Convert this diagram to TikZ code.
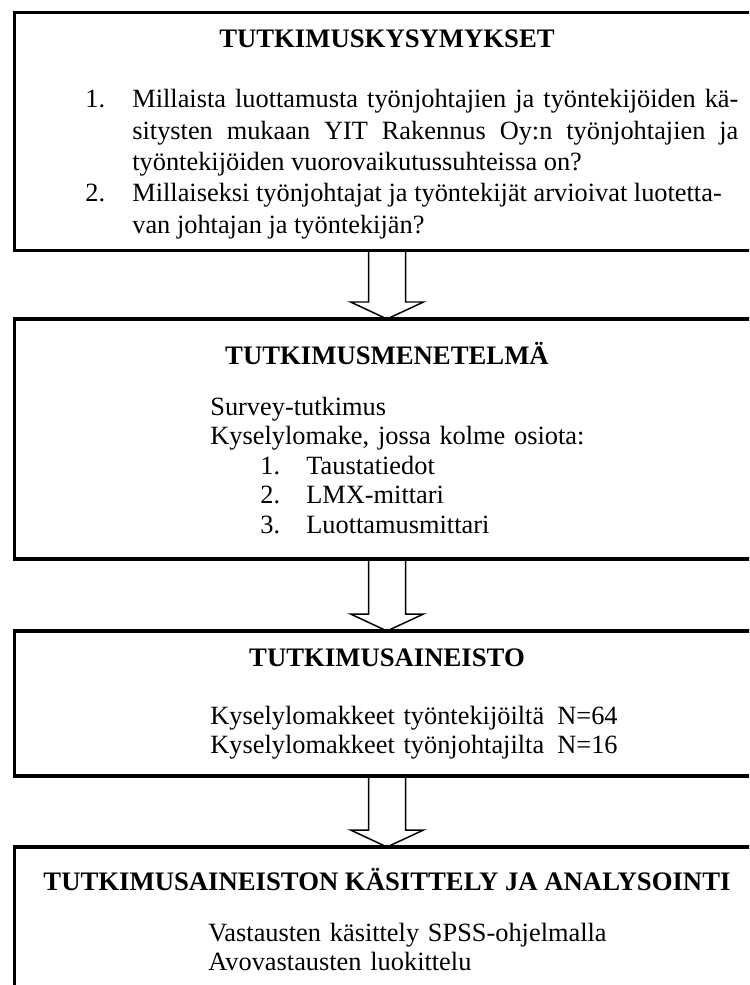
\documentclass[tikz,border=0pt]{standalone}
\usepackage{fontspec}
\setmainfont{Liberation Serif}
\usetikzlibrary{calc}
\newcommand{\isonuoli}[2]{%
  \draw[nuoli] ($(#1.south)+(-0.37,0)$) -- ($(#2.north)+(-0.37,0.34)$)
    -- ($(#2.north)+(-0.73,0.34)$) -- (#2.north)
    -- ($(#2.north)+(0.73,0.34)$) -- ($(#2.north)+(0.37,0.34)$)
    -- ($(#1.south)+(0.37,0)$);}

\begin{document}
\begin{tikzpicture}[
  laatikko/.style={draw, line width=2.2pt, minimum width=14.9cm, inner sep=0pt, outer sep=0pt},
  otsikko/.style={anchor=base, inner sep=0pt, font=\fontsize{15.2}{18}\selectfont\bfseries},
  numero/.style={anchor=base west, inner sep=0pt, font=\fontsize{15}{17.8}\selectfont},
  kohta/.style={anchor=base west, inner sep=0pt, text width=12.12cm, align=justify, font=\fontsize{15}{17.8}\selectfont},
  rivit/.style={anchor=base west, inner sep=0pt, text width=10cm, align=left}]
\tikzset{nuoli/.style={line width=0.85pt, line join=miter}}
\useasboundingbox (0,0) rectangle (14.98,-19.7);
\clip (0,0) rectangle (14.98,-19.7);

\node[laatikko, minimum height=4.76cm] (kysymykset) at (7.74,-2.63) {};
\node[otsikko] (kysymyksetot) at (7.74,-0.96) {TUTKIMUSKYSYMYKSET};
\node[numero] (nro1) at (1.70,-2.16) {1.};
\node[kohta] (kysymys1) at (2.64,-2.16) {Millaista luottamusta työnjohtajien ja työntekijöiden kä-\linebreak
  sitysten mukaan YIT Rakennus Oy:n työnjohtajien ja\linebreak
  työntekijöiden vuorovaikutussuhteissa on?};
\node[numero] (nro2) at (1.70,-4.04) {2.};
\node[kohta] (kysymys2) at (2.64,-4.04) {Millaiseksi työnjohtajat ja työntekijät arvioivat luotetta-\newline
  van johtajan ja työntekijän?};

\node[laatikko, minimum height=4.8cm] (menetelma) at (7.74,-8.78) {};
\node[otsikko] (menetelmaot) at (7.74,-7.30) {TUTKIMUSMENETELMÄ};
\node[rivit, font=\fontsize{15}{16.8}\selectfont] (menetelmateksti) at (4.20,-8.30) {Survey-tutkimus\\
  Kyselylomake, jossa kolme osiota:\\
  \hspace*{1cm}\makebox[0.92cm][l]{1.}Taustatiedot\\
  \hspace*{1cm}\makebox[0.92cm][l]{2.}LMX-mittari\\
  \hspace*{1cm}\makebox[0.92cm][l]{3.}Luottamusmittari};

\node[laatikko, minimum height=2.9cm] (aineisto) at (7.74,-14.07) {};
\node[otsikko] (aineistoot) at (7.74,-13.32) {TUTKIMUSAINEISTO};
\node[rivit, font=\fontsize{15}{16.5}\selectfont] (aineistoteksti) at (4.20,-14.48) {Kyselylomakkeet työntekijöiltä\ \,N=64\\
  Kyselylomakkeet työnjohtajilta\ \,N=16};

\node[laatikko, minimum height=3.06cm] (analyysi) at (7.74,-18.47) {};
\node[otsikko] (analyysiot) at (7.74,-17.8) {TUTKIMUSAINEISTON KÄSITTELY JA ANALYSOINTI};
\node[rivit, font=\fontsize{15}{16.5}\selectfont] (analyysiteksti) at (4.16,-18.82) {Vastausten käsittely SPSS-ohjelmalla\\
  Avovastausten luokittelu};

\isonuoli{kysymykset}{menetelma}
\isonuoli{menetelma}{aineisto}
\isonuoli{aineisto}{analyysi}
\end{tikzpicture}
\end{document}
